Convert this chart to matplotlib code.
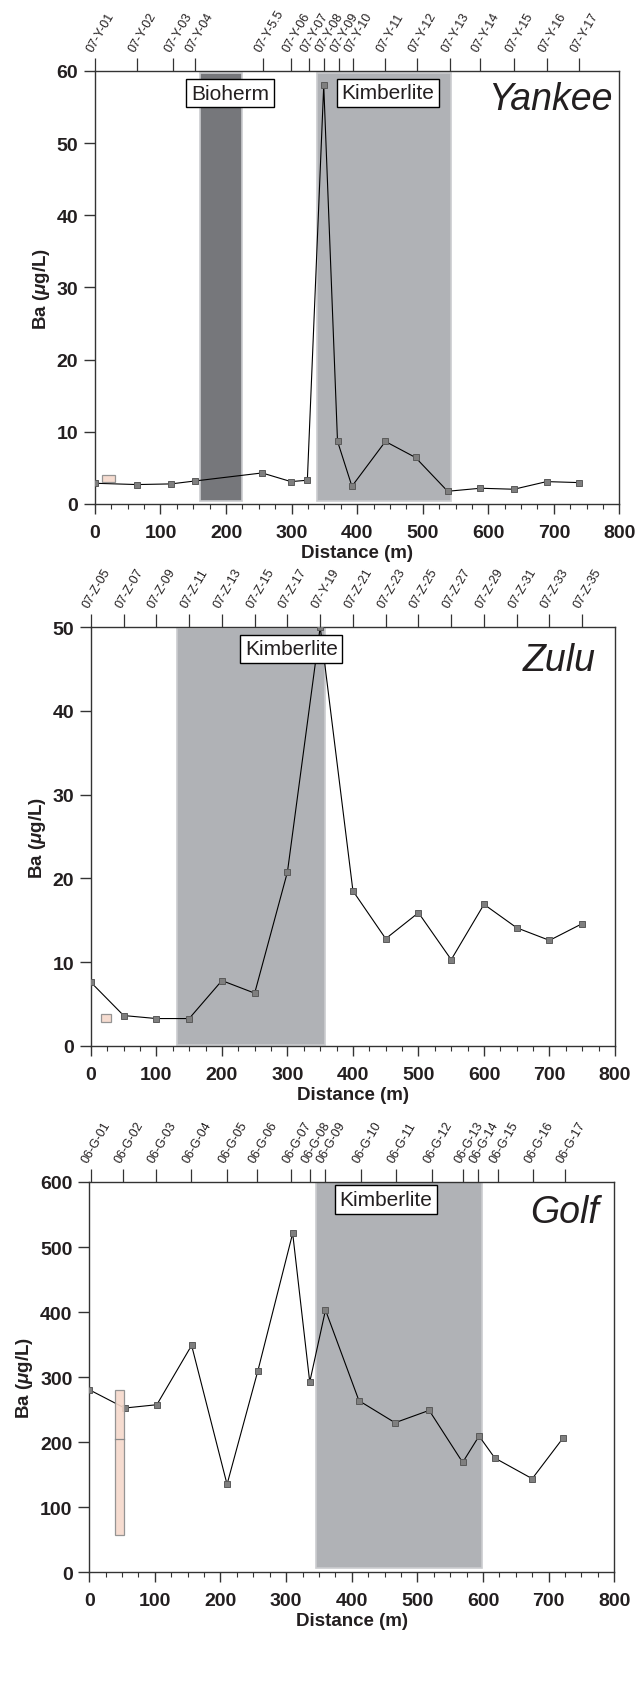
import matplotlib
matplotlib.use('Agg')
import matplotlib.pyplot as plt
from matplotlib.patches import Rectangle
from matplotlib.ticker import MultipleLocator

# Yankee traverse
yankee_x = [0, 64, 116, 153, 255, 299, 324, 349, 370, 392, 443, 489, 538, 588, 639, 689, 739]
yankee_ba = [2.87, 2.69, 2.78, 3.19, 4.3, 3.1, 3.29, 58.0, 8.7, 2.45, 8.66, 6.44, 1.76, 2.18, 2.04, 3.1, 2.96]
yankee_tick_x = [0, 64, 119, 152, 256, 299, 327, 349, 373, 394, 443, 491, 541, 588, 639, 689, 739]
yankee_samples = ['07-Y-01', '07-Y-02', '07-Y-03', '07-Y-04', '07-Y-5.5', '07-Y-06', '07-Y-07',
                  '07-Y-08', '07-Y-09', '07-Y-10', '07-Y-11', '07-Y-12', '07-Y-13', '07-Y-14',
                  '07-Y-15', '07-Y-16', '07-Y-17']

# Zulu traverse
zulu_x = [0, 50, 100, 150, 200, 250, 300, 350, 400, 450, 500, 550, 600, 650, 700, 750]
zulu_ba = [7.6, 3.63, 3.27, 3.27, 7.8, 6.3, 20.76, 50.0, 18.5, 12.8, 15.9, 10.3, 16.9, 14.1, 12.6, 14.6]
zulu_samples = ['07-Z-05', '07-Z-07', '07-Z-09', '07-Z-11', '07-Z-13', '07-Z-15', '07-Z-17', '07-Y-19',
                '07-Z-21', '07-Z-23', '07-Z-25', '07-Z-27', '07-Z-29', '07-Z-31', '07-Z-33', '07-Z-35']

# Golf traverse
golf_x = [0, 54, 103, 156, 210, 257, 310, 336, 360, 411, 466, 518, 569, 594, 618, 675, 722]
golf_ba = [280.5, 252.3, 257.4, 348.7, 134.9, 309.7, 521, 292.3, 403, 263.6, 229.7, 248.7,
           168.7, 209.2, 175.4, 143.6, 206.2]
golf_tick_x = [2, 52, 102, 155, 210, 256, 307, 337, 360, 414, 468, 522, 569, 592, 623, 676, 725]
golf_samples = ['06-G-01', '06-G-02', '06-G-03', '06-G-04', '06-G-05', '06-G-06', '06-G-07', '06-G-08',
                '06-G-09', '06-G-10', '06-G-11', '06-G-12', '06-G-13', '06-G-14', '06-G-15', '06-G-16',
                '06-G-17']

# shaded zones (x0, x1, y0, y1, label)
yankee_zones = [(160, 225, 0.4, 59.7, 'Bioherm'), (338, 543, 0.4, 59.7, 'Kimberlite')]
zulu_zones = [(131, 357, 0.1, 49.9, 'Kimberlite')]
golf_zones = [(346, 599, 6, 600, 'Kimberlite')]

# background boxes (x0, x1, low, high, median)
yankee_bg = (11, 30, 3.1, 4.0, None)
zulu_bg = (15, 31, 2.8, 3.8, None)
golf_bg = (40, 53, 57, 280, 204)

plt.rcParams['font.family'] = ['Liberation Sans', 'DejaVu Sans']
plt.rcParams['mathtext.fontset'] = 'custom'
plt.rcParams['mathtext.it'] = 'Liberation Sans:italic:bold'
plt.rcParams['mathtext.rm'] = 'Liberation Sans:bold'

zone_colors = {'Bioherm': '#76777b', 'Kimberlite': '#b0b2b6'}
ink = '#231f20'

fig = plt.figure(figsize=(6.36, 16.9), dpi=100)


def panel(rect, name, name_xy, x, ba, tick_x, samples, zones, bg, ymax, ystep, label_pos):
    ax = fig.add_axes(rect)
    ax.set_xlim(0, 800)
    ax.set_ylim(0, ymax)
    for (x0, x1, y0, y1, lab) in zones:
        ax.add_patch(Rectangle((x0, y0), x1 - x0, y1 - y0, facecolor=zone_colors[lab],
                               edgecolor='#cbcccf', lw=1.2, zorder=1))
    for (lab, lx, ly) in label_pos:
        ax.text(lx, ly, lab, ha='center', va='center', fontsize=15, color=ink, zorder=6,
                bbox=dict(boxstyle='square,pad=0.22', fc='white', ec='black', lw=1.0))
    ax.plot(x, ba, color='black', lw=0.8, marker='s', ms=4.3, mfc='#7f7f7f', mec='#5a5a5a',
            mew=0.7, zorder=3)
    bx0, bx1, blo, bhi, bmed = bg
    ax.add_patch(Rectangle((bx0, blo), bx1 - bx0, bhi - blo, facecolor='#f6d9cb',
                           edgecolor='#8a8a8a', lw=0.9, alpha=0.9, zorder=4))
    if bmed is not None:
        ax.plot([bx0, bx1], [bmed, bmed], color='#8a8a8a', lw=0.9, zorder=5)
    ax.text(name_xy[0], name_xy[1], name, transform=ax.transAxes, ha='right', va='top',
            style='italic', fontsize=27, color=ink, zorder=6)

    for s in ax.spines.values():
        s.set_color('#333333')
        s.set_linewidth(1.0)
    ax.yaxis.set_major_locator(MultipleLocator(ystep))
    ax.xaxis.set_major_locator(MultipleLocator(100))
    ax.xaxis.set_minor_locator(MultipleLocator(25))
    ax.tick_params(axis='x', which='major', direction='out', length=7.2, width=1.0,
                   color='#333333', pad=7.5, labelsize=14)
    ax.tick_params(axis='x', which='minor', direction='out', length=3.6, width=0.8, color='#333333')
    ax.tick_params(axis='y', which='major', direction='out', length=8, width=1.0,
                   color='#333333', pad=4, labelsize=14)
    for t in ax.get_xticklabels() + ax.get_yticklabels():
        t.set_fontweight('bold')
        t.set_color(ink)
    ax.set_xlabel('Distance (m)', fontsize=13.5, fontweight='bold', color=ink, labelpad=2)
    ax.set_ylabel('Ba ($\\mu$g/L)', fontsize=13.5, fontweight='bold', color=ink, labelpad=3.5)

    top = ax.twiny()
    top.set_xlim(0, 800)
    top.set_xticks(tick_x)
    top.set_xticklabels(samples)
    top.tick_params(axis='x', direction='out', length=9.7, width=0.9, color='#333333',
                    pad=3, labelsize=9, labelcolor=ink)
    plt.setp(top.get_xticklabels(), rotation=60, ha='left', va='bottom', rotation_mode='anchor')
    for s in top.spines.values():
        s.set_visible(False)
    return ax


panel([0.1492, 0.7012, 0.8248, 0.2562], 'Yankee', (0.987, 0.977), yankee_x, yankee_ba,
      yankee_tick_x, yankee_samples, yankee_zones, yankee_bg, 60, 10,
      [('Bioherm', 206, 56.9), ('Kimberlite', 447, 57.0)])
panel([0.1429, 0.3805, 0.8241, 0.2479], 'Zulu', (0.963, 0.964), zulu_x, zulu_ba,
      zulu_x, zulu_samples, zulu_zones, zulu_bg, 50, 10,
      [('Kimberlite', 306, 47.4)])
panel([0.1403, 0.0692, 0.8255, 0.2308], 'Golf', (0.97, 0.969), golf_x, golf_ba,
      golf_tick_x, golf_samples, golf_zones, golf_bg, 600, 100,
      [('Kimberlite', 452, 573)])

fig.savefig('out.png', dpi=100)
